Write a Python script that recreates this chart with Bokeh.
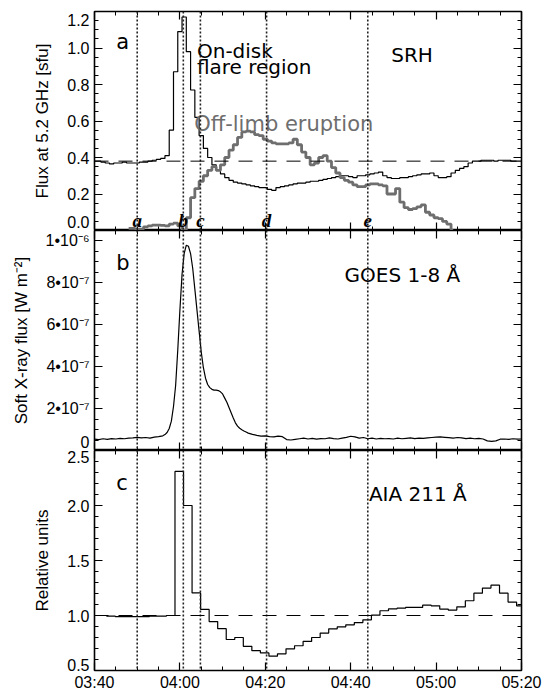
from bokeh.plotting import figure
from bokeh.layouts import column
from bokeh.models import (FixedTicker, LinearAxis, Span, Range1d,
                          CustomLabelingPolicy)
from bokeh.core.properties import value
from bokeh.embed import file_html
from bokeh.resources import INLINE

# ---------------- data (time = minutes after 03:40 UT) ----------------
x_ticks = [0, 20, 40, 60, 80, 100]
x_tick_labels = ["03:40", "04:00", "04:20", "04:40", "05:00", "05:20"]
x_minor = list(range(0, 101, 5))

event_names = ["a", "b", "c", "d", "e"]
event_min = [10.0, 20.8, 24.8, 40.3, 64.0]

# SRH 5.2 GHz, on-disk flare region (1-min bins)
srh_disk_min = list(range(0, 101))
srh_disk = [0.38, 0.38, 0.375, 0.37, 0.365, 0.37, 0.37, 0.375, 0.37, 0.37,
            0.37, 0.375, 0.375, 0.38, 0.385, 0.39, 0.395, 0.41, 0.55, 0.87,
            1.09, 1.17, 0.98, 0.77, 0.62, 0.52, 0.45, 0.40, 0.36, 0.33,
            0.31, 0.29, 0.275, 0.265, 0.26, 0.255, 0.25, 0.245, 0.24, 0.235,
            0.235, 0.225, 0.22, 0.235, 0.24, 0.245, 0.25, 0.255, 0.26, 0.26,
            0.265, 0.27, 0.27, 0.275, 0.28, 0.285, 0.29, 0.295, 0.30, 0.30,
            0.295, 0.29, 0.30, 0.30, 0.305, 0.31, 0.315, 0.32, 0.30, 0.29,
            0.285, 0.285, 0.29, 0.29, 0.295, 0.30, 0.305, 0.31, 0.31, 0.315,
            0.30, 0.29, 0.29, 0.295, 0.315, 0.33, 0.34, 0.35, 0.37, 0.38,
            0.38, 0.385, 0.385, 0.385, 0.38, 0.385, 0.385, 0.385, 0.38, 0.38,
            0.38]

# SRH 5.2 GHz, off-limb eruption (1-min bins)
srh_limb_min = list(range(8, 85))
srh_limb = [0.012, 0.012, 0.008, 0.008, 0.02, 0.025, 0.03, 0.03, 0.028, 0.025,
            0.035, 0.04, 0.025, 0.0, 0.07, 0.18, 0.23, 0.27, 0.30, 0.33,
            0.35, 0.33, 0.36, 0.40, 0.44, 0.47, 0.51, 0.54, 0.545, 0.54,
            0.525, 0.52, 0.50, 0.49, 0.48, 0.475, 0.475, 0.475, 0.48, 0.50,
            0.47, 0.43, 0.40, 0.36, 0.37, 0.40, 0.41, 0.38, 0.345, 0.315,
            0.29, 0.275, 0.265, 0.25, 0.24, 0.24, 0.25, 0.255, 0.255, 0.25,
            0.245, 0.20, 0.20, 0.23, 0.155, 0.125, 0.115, 0.12, 0.13, 0.14,
            0.10, 0.085, 0.07, 0.065, 0.05, 0.035, 0.0]
srh_threshold = 0.38
srh_ticks = [0.0, 0.2, 0.4, 0.6, 0.8, 1.0, 1.2]
srh_tick_labels = ["0.0", "0.2", "0.4", "0.6", "0.8", "1.0", "1.2"]

# GOES 1-8 A soft X-ray flux, in units of 1e-8 W m^-2
goes_min = [0, 1, 2, 3, 4, 5, 6, 7, 8, 9, 10, 11, 12, 13, 14, 15, 16,
            16.5, 17, 17.5, 18, 18.5, 19, 19.5, 20, 20.5, 21, 21.5, 22, 22.5,
            23, 23.5, 24, 24.5, 25, 25.5, 26, 26.5, 27, 27.5, 28, 28.5, 29,
            29.5, 30, 30.5, 31, 31.5, 32, 32.5, 33, 33.5, 34, 34.5, 35, 35.5,
            36, 37, 38, 39, 40, 41, 42, 43, 44, 45, 46, 47, 48, 49, 50, 51,
            52, 53, 54, 55, 56, 57, 58, 59, 60, 61, 62, 63, 64, 65, 66, 67,
            68, 69, 70, 71, 72, 73, 74, 75, 76, 77, 78, 79, 80, 81, 82, 83,
            84, 85, 86, 87, 88, 89, 90, 91, 92, 93, 94, 95, 96, 97, 98, 99, 100]
goes_flux_e8 = [5.4, 5.2, 5.6, 5.3, 5.7, 5.5, 5.8, 5.6, 5.9, 6.0, 6.3, 6.0, 6.2,
                5.9, 6.4, 6.6, 7.0,
                7.6, 8.6, 10.5, 14, 21, 31, 48, 67, 84, 94, 98, 97.5, 94,
                87, 77, 67, 57, 47, 39.5, 34.5, 31.5, 30, 29.2, 28.8, 28.8, 28.6,
                28.0, 27.0, 25.0, 23.0, 20.5, 18.0, 15.5, 13.2, 11.6, 10.6, 9.9,
                9.3, 8.8,
                8.3, 7.7, 7.2, 6.9, 7.0, 6.6, 6.5, 6.9, 6.6, 5.2, 5.0, 5.3, 5.6,
                5.9, 5.5, 5.8, 5.4, 5.7, 5.6, 6.0, 5.7, 5.5, 5.9, 6.3, 6.8, 6.5,
                5.9, 6.2, 5.6, 5.9, 5.5, 5.8, 5.6, 5.7, 5.5, 5.9, 5.6, 5.8, 6.0,
                5.7, 5.9, 5.8, 6.0, 6.2, 6.4, 6.5, 6.3, 6.1, 5.9, 6.2, 6.0, 5.7,
                5.9, 5.6, 5.8, 5.5, 4.6, 4.4, 4.6, 5.4, 5.5, 5.3, 5.6, 5.4, 5.5]
goes_flux = [v * 1e-8 for v in goes_flux_e8]
goes_ticks = [0.0, 2e-7, 4e-7, 6e-7, 8e-7, 1e-6]
goes_tick_labels = ["0", "2\u202210\u207b\u2077", "4\u202210\u207b\u2077",
                    "6\u202210\u207b\u2077", "8\u202210\u207b\u2077", "1\u202210\u207b\u2076"]

# AIA 211 A relative intensity (2-min bins, centre times)
aia_min = [-0.15, 1.85, 3.85, 5.85, 7.85, 9.85, 11.85, 13.85, 15.85, 17.85,
           19.85, 21.85, 23.85, 25.85, 27.85, 29.85, 31.85, 33.85, 35.85, 37.85,
           39.85, 41.85, 43.85, 45.85, 47.85, 49.85, 51.85, 53.85, 55.85, 57.85,
           59.85, 61.85, 63.85, 65.85, 67.85, 69.85, 71.85, 73.85, 75.85, 77.85,
           79.85, 81.85, 83.85, 85.85, 87.85, 89.85, 91.85, 93.85, 95.85, 97.85,
           99.85]
aia_rel = [1.0, 1.0, 0.995, 0.99, 0.99, 0.99, 0.99, 0.995, 0.995, 1.0,
           2.31, 2.0, 1.205, 1.055, 0.945, 0.88, 0.782, 0.80, 0.72, 0.68,
           0.66, 0.63, 0.652, 0.697, 0.725, 0.764, 0.80, 0.84, 0.879, 0.897,
           0.915, 0.936, 0.961, 1.003, 1.043, 1.061, 1.067, 1.073, 1.073, 1.094,
           1.088, 1.058, 1.049, 1.079, 1.134, 1.203, 1.249, 1.276, 1.203, 1.122,
           1.088]
aia_ref = 1.0
aia_ticks = [0.5, 1.0, 1.5, 2.0, 2.5]
aia_tick_labels = ["0.5", "1.0", "1.5", "2.0", "2.5"]

# ---------------- styling helpers ----------------
TICK_FONT = "Liberation Sans"
ANNOT_FONT = "DejaVu Sans"
X0, X1 = 0, 100
NO_LABELS = "return new Set()"


def style_axis(ax, show_labels):
    ax.axis_line_color = None
    ax.major_tick_in = 8
    ax.major_tick_out = 0
    ax.minor_tick_in = 4
    ax.minor_tick_out = 0
    ax.major_tick_line_color = "black"
    ax.minor_tick_line_color = "black"
    ax.major_tick_line_width = 1.2
    ax.minor_tick_line_width = 1
    if show_labels:
        ax.major_label_text_font = TICK_FONT
        ax.major_label_text_font_size = "16px"
        ax.major_label_text_color = "black"
    else:
        ax.major_label_text_font_size = "0px"
        ax.major_label_standoff = 0
        ax.major_label_policy = CustomLabelingPolicy(code=NO_LABELS)


def make_panel(y0, y1, frame_h, top, bottom, yticks, yminor, ylabels, ylabel,
               edge_shift, show_x):
    p = figure(frame_width=427, frame_height=frame_h,
               x_range=Range1d(X0, X1), y_range=Range1d(y0, y1),
               output_backend="svg", toolbar_location=None,
               x_axis_location=None, y_axis_location=None,
               min_border_left=94, min_border_right=31,
               min_border_top=top, min_border_bottom=bottom)
    p.xgrid.visible = False
    p.ygrid.visible = False
    p.outline_line_color = "black"
    p.outline_line_width = 1.6
    p.background_fill_color = "white"
    p.border_fill_color = "white"

    # left side: an inward tick axis next to the frame ...
    left_ticks = LinearAxis(ticker=FixedTicker(ticks=yticks, minor_ticks=yminor))
    style_axis(left_ticks, False)
    # ... and a label axis; labels of ticks lying on the frame edge are nudged
    # inside the panel by a few pixels, as in the original IDL figure
    px = (y1 - y0) / frame_h
    lab_pos = [t + edge_shift.get(t, 0) * px for t in yticks]
    left = LinearAxis(ticker=FixedTicker(ticks=lab_pos, minor_ticks=[]),
                      major_label_overrides=dict(zip(lab_pos, ylabels)),
                      axis_label=ylabel)
    left.axis_line_color = None
    left.major_tick_line_color = None
    left.minor_tick_line_color = None
    left.major_tick_in = 0
    left.major_tick_out = 0
    left.minor_tick_in = 0
    left.minor_tick_out = 0
    left.major_label_standoff = 5
    left.major_label_text_font = TICK_FONT
    left.major_label_text_font_size = "16px"
    left.major_label_text_color = "black"
    left.axis_label_text_font = TICK_FONT
    left.axis_label_text_font_style = "normal"
    left.axis_label_text_font_size = "17px"
    left.axis_label_text_color = "black"
    left.axis_label_standoff = 12

    right = LinearAxis(ticker=FixedTicker(ticks=yticks, minor_ticks=yminor))
    style_axis(right, False)

    below = LinearAxis(ticker=FixedTicker(ticks=x_ticks, minor_ticks=x_minor),
                       major_label_overrides=dict(zip(x_ticks, x_tick_labels)))
    style_axis(below, show_x)
    if show_x:
        below.major_label_standoff = 3
    above = LinearAxis(ticker=FixedTicker(ticks=x_ticks, minor_ticks=x_minor))
    style_axis(above, False)

    p.add_layout(left_ticks, "left")
    p.add_layout(left, "left")
    p.add_layout(right, "right")
    p.add_layout(below, "below")
    p.add_layout(above, "above")

    for m in event_min:
        p.add_layout(Span(location=m, dimension="height", line_color="#222222",
                          line_width=1.6, line_dash="2 2"))
    return p


def annot(p, x, y, txt, size="20px", color="black", font=ANNOT_FONT, style="normal", align="left"):
    p.text(x=[x], y=[y], text=[txt], text_font=value(font), text_font_size=value(size),
           text_color=color, text_font_style=style, text_align=align,
           text_baseline="alphabetic")


# ---------------- panel a: SRH ----------------
srh_minor = [round(i * 0.05, 2) for i in range(25)]
pa = make_panel(0.0, 1.2, 219, 11, 0, srh_ticks, srh_minor, srh_tick_labels,
                "Flux at 5.2 GHz [sfu]", {0.0: 9, 1.2: -8}, False)
pa.add_layout(Span(location=srh_threshold, dimension="width", line_color="black",
                   line_width=1, line_dash="14 10"))
pa.step(srh_disk_min, srh_disk, mode="center", line_color="black", line_width=1.2)
pa.step(srh_limb_min, srh_limb, mode="center", line_color="#6e6e6e", line_width=2.8)
annot(pa, 5.1, 1.032, "a", size="21px")
annot(pa, 24.0, 0.986, "On-disk", size="20px")
annot(pa, 24.0, 0.896, "flare region", size="20px")
annot(pa, 23.35, 0.582, "Off-limb eruption", size="21px", color="#6e6e6e")
annot(pa, 69.5, 0.9595, "SRH", size="20px")
pa.text(x=event_min, y=[0.054] * len(event_min), text=event_names,
        text_font=value("Liberation Serif"), text_font_size=value("19px"),
        text_font_style="bold italic", text_align="center", text_baseline="alphabetic",
        text_color="black")

# ---------------- panel b: GOES ----------------
goes_minor = [round(i * 5e-8, 10) for i in range(22)]
pb = make_panel(0.0, 1.05e-6, 220, 0, 0, goes_ticks, goes_minor, goes_tick_labels,
                "Soft X-ray flux [W m\u207b\u00b2]", {0.0: 8}, False)
pb.line(goes_min, goes_flux, line_color="black", line_width=1.2)
annot(pb, 5.1, 8.97e-7, "b", size="21px")
annot(pb, 58.55, 8.36e-7, "GOES 1-8 \u00c5", size="20px")

# ---------------- panel c: AIA ----------------
aia_minor = [round(0.5 + i * 0.1, 2) for i in range(21)]
pc = make_panel(0.5, 2.5, 220, 0, 25, aia_ticks, aia_minor, aia_tick_labels,
                "Relative units", {0.5: 6, 2.5: -6}, True)
pc.add_layout(Span(location=aia_ref, dimension="width", line_color="black",
                   line_width=1, line_dash="14 10"))
pc.step(aia_min, aia_rel, mode="center", line_color="black", line_width=1.2)
annot(pc, 5.1, 2.209, "c", size="21px")
annot(pc, 64.26, 2.104, "AIA 211 \u00c5", size="20px")

layout = column(pa, pb, pc, spacing=0)
open("out.html", "w").write(file_html(layout, INLINE))
